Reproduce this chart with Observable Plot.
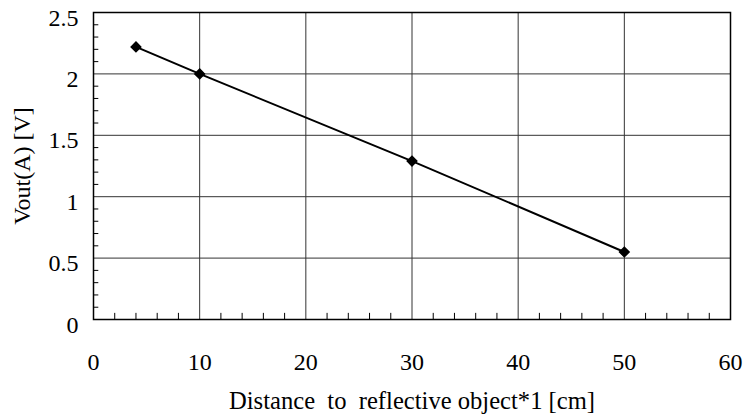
<!DOCTYPE html>
<html>
<head>
<meta charset="utf-8">
<script src="https://cdn.jsdelivr.net/npm/d3@7"></script>
<script src="https://cdn.jsdelivr.net/npm/@observablehq/plot@0.6"></script>
<style>
  html, body { margin: 0; padding: 0; background: #fff; }
  svg text { white-space: pre; font-family: 'Liberation Serif', 'Times New Roman', serif !important; font-variant: normal !important; }
</style>
</head>
<body>
<div id="chart"></div>
<script>
const distance = [4, 10, 30, 50];
const vout = [2.22, 2.0, 1.29, 0.55];
const xTicks = [0, 10, 20, 30, 40, 50, 60];
const yTicks = [0, 0.5, 1, 1.5, 2, 2.5];
const yTickLabels = ["0", "0.5", "1", "1.5", "2", "2.5"];
const xMinor = d3.range(2, 60, 2).filter(v => v % 10 !== 0);
const yMinor = d3.range(1, 25).map(v => v / 10).filter(v => Math.abs(v * 2 - Math.round(v * 2)) > 1e-9);
const xLabel = "Distance  to  reflective object*1 [cm]";
const yLabel = "Vout(A) [V]";

const data = distance.map((d, i) => ({x: d, y: vout[i]}));

const chart = Plot.plot({
  width: 743,
  height: 417,
  marginLeft: 93,
  marginRight: 13,
  marginTop: 12,
  marginBottom: 98,
  style: {fontFamily: "'Liberation Serif', 'Times New Roman', serif", fontSize: "24px"},
  x: {domain: [0, 60]},
  y: {domain: [0, 2.5]},
  marks: [
    Plot.ruleX(xTicks.slice(1, -1), {stroke: "#333", strokeWidth: 1}),
    Plot.ruleY(yTicks.slice(1, -1), {stroke: "#333", strokeWidth: 1}),
    Plot.ruleX(xMinor, {y1: 0, y2: 0.05, stroke: "#000", strokeWidth: 1}),
    Plot.ruleY(yMinor, {x1: 0, x2: 0.5, stroke: "#000", strokeWidth: 1}),
    Plot.frame({stroke: "#000", strokeWidth: 1.5}),
    Plot.axisX({ticks: xTicks, tickSize: 0, tickPadding: 33, tickFormat: d => String(d),
      label: xLabel, labelAnchor: "center", labelArrow: "none", labelOffset: 89}),
    Plot.axisY({ticks: yTicks, tickSize: 0, tickPadding: 15, dy: 5.5,
      tickFormat: d => yTickLabels[yTicks.indexOf(d)],
      label: yLabel, labelAnchor: "center", labelArrow: "none", labelOffset: 81}),
    Plot.line(data, {x: "x", y: "y", stroke: "#000", strokeWidth: 2}),
    Plot.dot(data, {x: "x", y: "y", symbol: "diamond2", r: 4.3, fill: "#000", stroke: "#000"})
  ]
});
d3.select(chart).selectAll("text")
  .style("font-family", "'Liberation Serif', 'Times New Roman', serif")
  .style("font-size", "24px")
  .style("fill", "#000");
d3.select(chart).select("g[aria-label='x-axis label'] text").style("font-size", "24.6px");
document.getElementById("chart").appendChild(chart);
</script>
</body>
</html>
